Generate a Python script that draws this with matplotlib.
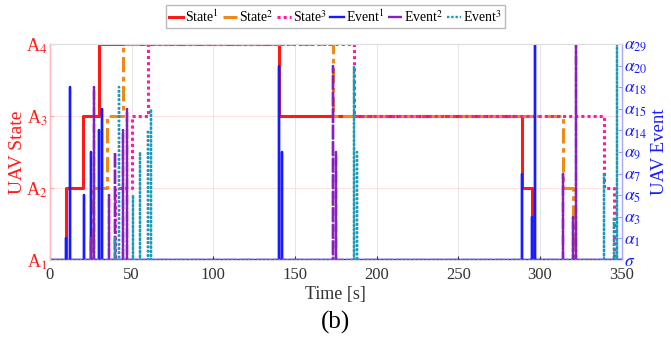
import matplotlib
matplotlib.use("Agg")
import matplotlib.pyplot as plt

plt.rcParams['font.family'] = ['Liberation Serif', 'DejaVu Serif']
plt.rcParams['mathtext.fontset'] = 'stix'

# state changes: (time, level) with levels 1..4 = A1..A4
state1 = [(0, 1), (10, 2), (20, 3), (30, 4), (140, 3), (289, 2), (295, 1), (350, 1)]
state2 = [(0, 1), (25, 2), (35, 3), (45, 4), (173, 3), (314, 2), (320, 1), (350, 1)]
state3 = [(0, 1), (40, 2), (50, 3), (60, 4), (186, 3), (339, 2), (345, 1), (350, 1)]

# events: (time, index on right axis)
event1 = [(10, 1), (12, 8), (21, 3), (25, 5), (30, 6), (32, 7),
          (140, 9), (142, 5), (289, 4), (295, 2), (297, 10)]
event2 = [(25, 1), (27, 8), (36, 3), (40, 5), (45, 6), (47, 7),
          (173, 9), (175, 5), (314, 4), (320, 2), (322, 10)]
event3 = [(40, 1), (42, 8), (51, 3), (55, 5), (60, 6), (62, 7),
          (186, 9), (188, 5), (339, 4), (345, 2), (347, 10)]

state_ticks = ['A$_1$', 'A$_2$', 'A$_3$', 'A$_4$']
event_ticks = [r'$\sigma$', r'$\alpha_1$', r'$\alpha_3$', r'$\alpha_5$', r'$\alpha_7$',
               r'$\alpha_9$', r'$\alpha_{14}$', r'$\alpha_{15}$', r'$\alpha_{18}$',
               r'$\alpha_{20}$', r'$\alpha_{29}$']


def pulses(events, end=350):
    xs, ys = [0], [0]
    for t, lvl in events:
        xs += [t, t, t]
        ys += [0, lvl, 0]
    xs.append(end)
    ys.append(0)
    return xs, ys


fig = plt.figure(figsize=(6.71, 3.39), dpi=100)
ax = fig.add_axes([0.0745, 0.233, 0.852, 0.637])
ax2 = ax.twinx()

red = '#ff1a1a'
orange = '#ee8a17'
magenta = '#ff1aa0'
blue = '#1a1aff'
purple = '#8a1fc0'
teal = '#1c98b8'

h = []
for data, c, ls, lab in [(state1, red, '-', 'State$^1$'),
                         (state2, orange, (0, (5, 1.5, 1.5, 1.5)), 'State$^2$'),
                         (state3, magenta, (0, (1, 1)), 'State$^3$')]:
    xs = [p[0] for p in data]
    ys = [p[1] for p in data]
    l, = ax.step(xs, ys, where='post', color=c, lw=2.2, ls=ls, label=lab)
    h.append(l)

for data, c, ls, lab in [(event1, blue, '-', 'Event$^1$'),
                         (event2, purple, (0, (6, 1)), 'Event$^2$'),
                         (event3, teal, (0, (1, 0.8)), 'Event$^3$')]:
    xs, ys = pulses(data)
    l, = ax2.plot(xs, ys, color=c, lw=1.7, ls=ls, label=lab)
    h.append(l)

ax.set_xlim(0, 350)
ax.set_ylim(1, 4)
ax2.set_ylim(0, 10)
ax.set_xticks(range(0, 351, 50))
ax.set_yticks([1, 2, 3, 4])
ax.set_yticklabels(state_ticks)
ax2.set_yticks(range(11))
ax2.set_yticklabels(event_ticks)

ax.tick_params(axis='x', labelsize=12, colors='#333333', direction='in', length=3, pad=5)
ax.tick_params(axis='y', labelsize=13, colors='#ffaaaa', labelcolor=red,
               direction='in', length=3, pad=2)
ax2.tick_params(axis='y', labelsize=12.5, colors='#9999ff', labelcolor=blue,
                direction='in', length=3, pad=2)
ax.grid(axis='x', color='#e6e6e6', lw=0.7)
ax.grid(axis='y', color='#ffe0e0', lw=0.7)

for s in ['top', 'bottom']:
    ax.spines[s].set_color('#dddddd')
ax2.spines['top'].set_color('#dddddd')
ax2.spines['bottom'].set_color('#dddddd')
ax2.spines['left'].set_color('#ffbbbb')
ax2.spines['right'].set_color('#aaaaff')

ax.set_ylabel('UAV State', color=red, fontsize=14, labelpad=0)
ax2.set_ylabel('UAV Event', color=blue, fontsize=13.5, labelpad=2)
ax.set_xlabel('Time [s]', fontsize=13, color='#333333', labelpad=2)

fig.legend(handles=h, loc='center', bbox_to_anchor=(0.5, 0.952), ncol=6,
           fontsize=10, handlelength=1.0, handletextpad=0.15, columnspacing=0.25,
           borderpad=0.25, fancybox=False, edgecolor='#bbbbbb', framealpha=1)
fig.text(0.5, 0.05, '(b)', ha='center', va='center', fontsize=18)

fig.savefig('out.png', dpi=100)
